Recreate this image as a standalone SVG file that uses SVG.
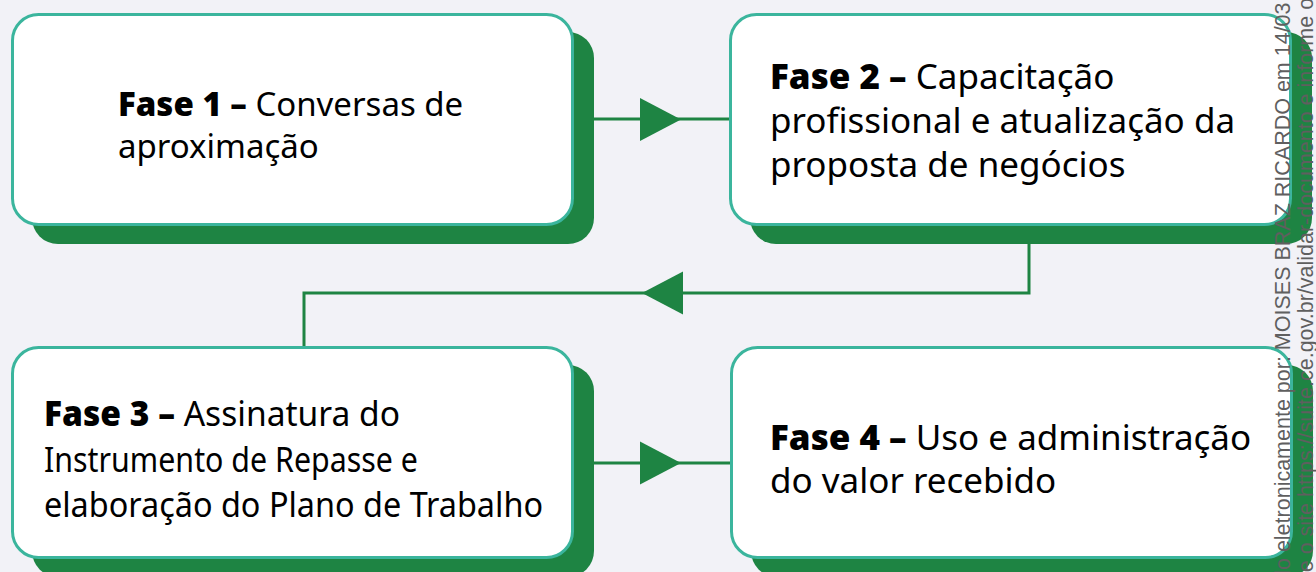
<svg xmlns="http://www.w3.org/2000/svg" width="1316" height="572" viewBox="0 0 1316 572">
<style>
.bg{fill:#f2f2f7}
.shadow{fill:#1e8443}
.box{fill:#ffffff;stroke:#3bb59d;stroke-width:3}
.conn{fill:none;stroke:#1e8443;stroke-width:3}
.arrow{fill:#1e8443}
.t{font-family:"Noto Sans","Open Sans",sans-serif;fill:#000000;font-size:35px}
.b{font-weight:900}
.wm{font-family:"Liberation Sans",Arial,sans-serif;font-size:21.5px;fill:#5f5f5f}
</style>
<defs>
<path id="tri" d="M0,-21.5 L41,0 L0,21.5 Z"/>
</defs>
<rect class="bg" x="0" y="0" width="1316" height="572"/>
<g id="connectors">
<path class="conn" d="M593,119 H731"/>
<use href="#tri" class="arrow" transform="translate(640,119.5)"/>
<path class="conn" d="M1029,243 V293 H304 V347"/>
<use href="#tri" class="arrow" transform="translate(683,293) rotate(180)"/>
<path class="conn" d="M593,463 H731"/>
<use href="#tri" class="arrow" transform="translate(640,463)"/>
</g>
<g id="fase1">
<rect class="shadow" x="32" y="32" width="562" height="212" rx="26"/>
<rect class="box" x="12.5" y="14.5" width="560" height="210" rx="26"/>
<text class="t" x="118" y="116" style="font-size:33px"><tspan class="b">Fase 1 –</tspan> Conversas de</text>
<text class="t" x="118" y="158" style="font-size:33px">aproximação</text>
</g>
<g id="fase2">
<rect class="shadow" x="750" y="32" width="562" height="212" rx="26"/>
<rect class="box" x="730.5" y="14.5" width="560" height="210" rx="26"/>
<text class="t" x="770" y="89"><tspan class="b">Fase 2 –</tspan> Capacitação</text>
<text class="t" x="770" y="133">profissional e atualização da</text>
<text class="t" x="770" y="177">proposta de negócios</text>
</g>
<g id="fase3">
<rect class="shadow" x="32" y="365" width="562" height="212" rx="26"/>
<rect class="box" x="12.5" y="347.5" width="560" height="210" rx="26"/>
<text class="t" x="44" y="426" textLength="356" lengthAdjust="spacingAndGlyphs"><tspan class="b">Fase 3 –</tspan> Assinatura do</text>
<text class="t" x="44" y="472" textLength="374" lengthAdjust="spacingAndGlyphs">Instrumento de Repasse e</text>
<text class="t" x="44" y="517" textLength="499" lengthAdjust="spacingAndGlyphs">elaboração do Plano de Trabalho</text>
</g>
<g id="fase4">
<rect class="shadow" x="751" y="365" width="562" height="212" rx="26"/>
<rect class="box" x="731.5" y="347.5" width="560" height="210" rx="26"/>
<text class="t" x="770" y="450"><tspan class="b">Fase 4 –</tspan> Uso e administração</text>
<text class="t" x="770" y="493">do valor recebido</text>
</g>
<g id="watermark">
<text class="wm" transform="translate(1290,582) rotate(-90)">do eletronicamente por: MOISES BRAZ RICARDO em 14/03</text>
<text class="wm" transform="translate(1313,583) rotate(-90)">se o site https://suite.ce.gov.br/validar-documento e informe o</text>
</g>
</svg>
